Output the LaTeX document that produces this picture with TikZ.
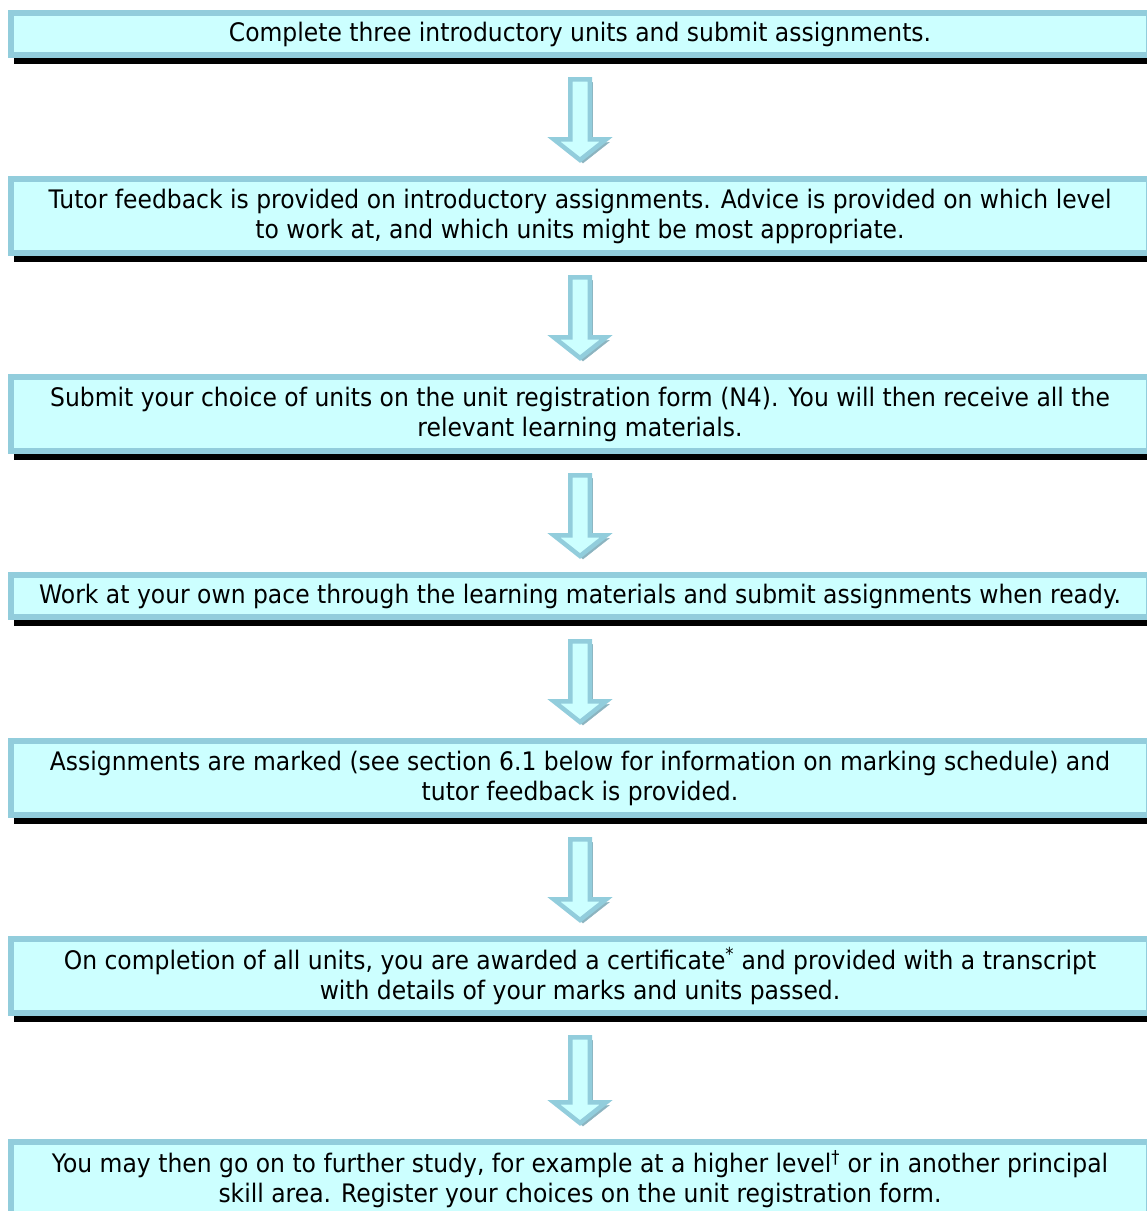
\documentclass[tikz,border=0pt]{standalone}
\usepackage{fontspec}
\setmainfont{DejaVu Sans}[FakeStretch=0.92]
\usetikzlibrary{positioning,calc}
\definecolor{boxline}{HTML}{92CDDC}
\definecolor{boxfill}{HTML}{CCFFFF}
\definecolor{arrowshade}{HTML}{8CB4C0}

\begin{document}
\begin{tikzpicture}[x=1pt,y=1pt,node distance=118pt]
\tikzstyle{stage}=[draw=boxline,fill=boxfill,line width=6pt,
	minimum width=1138pt,minimum height=42pt,inner sep=0pt,
	align=center,font=\fontsize{25.5}{30}\selectfont,
	preaction={draw=black,fill=black,transform canvas={shift={(6pt,-6pt)}}}]
\tikzstyle{two lines}=[minimum height=74pt]
\tikzstyle{blockarrow}=[draw=boxline,fill=boxfill,line width=4.5pt,line join=miter,
	preaction={draw=arrowshade,fill=arrowshade,transform canvas={shift={(3pt,-3pt)}}}]

\useasboundingbox (0,0) rectangle (1147,-1211);

\node[stage]			(s1) at (580,-34)	{Complete three introductory units and submit assignments.};
\node[stage,two lines,below=of s1]	(s2)	{Tutor feedback is provided on introductory assignments. Advice is provided on which level\\ to work at, and which units might be most appropriate.};
\node[stage,two lines,below=of s2]	(s3)	{Submit your choice of units on the unit registration form (N4). You will then receive all the\\ relevant learning materials.};
\node[stage,below=of s3]		(s4)	{Work at your own pace through the learning materials and submit assignments when ready.};
\node[stage,two lines,below=of s4]	(s5)	{Assignments are marked (see section 6.1 below for information on marking schedule) and\\ tutor feedback is provided.};
\node[stage,two lines,below=of s5]	(s6)	{On completion of all units, you are awarded a certificate\textsuperscript{*} and provided with a transcript\\ with details of your marks and units passed.};
\node[stage,two lines,below=123pt of s6]	(s7)	{You may then go on to further study, for example at a higher level\textsuperscript{†} or in another principal\\ skill area. Register your choices on the unit registration form.};

\foreach \a/\b in {s1/s2,s2/s3,s3/s4,s4/s5,s5/s6,s6/s7}
	\draw[blockarrow] ($(\a.south)+(-9.75,-21.25)$) -- ($(\a.south)+(9.75,-21.25)$)
		-- ($(\b.north)+(9.75,36.75)$) -- ($(\b.north)+(26.25,36.75)$) -- ($(\b.north)+(0,16)$)
		-- ($(\b.north)+(-26.25,36.75)$) -- ($(\b.north)+(-9.75,36.75)$) -- cycle;

\end{tikzpicture}
\end{document}
